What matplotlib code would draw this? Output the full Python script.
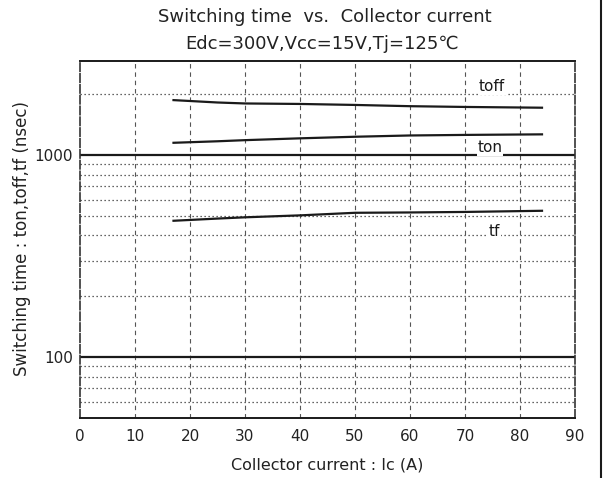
import matplotlib
matplotlib.use("Agg")
import matplotlib.pyplot as plt
from matplotlib.lines import Line2D

# Data
ic_toff = [17, 25, 30, 40, 50, 60, 70, 84]
toff = [1870, 1820, 1800, 1790, 1770, 1745, 1730, 1715]

ic_ton = [17, 25, 30, 40, 50, 60, 70, 84]
ton = [1150, 1170, 1185, 1210, 1232, 1250, 1258, 1266]

ic_tf = [17, 25, 30, 40, 50, 60, 70, 84]
tf = [473, 485, 492, 503, 518, 520, 523, 530]

xticks = [0, 10, 20, 30, 40, 50, 60, 70, 80, 90]
yticks = [100, 1000]
ytick_labels = ["100", "1000"]
minor_grid = [60, 70, 80, 90, 200, 300, 400, 500, 600, 700, 800, 900, 2000]

fig = plt.figure(figsize=(6.03, 4.78), dpi=100)
ax = fig.add_axes([80/603, 1-418/478, (575-80)/603, (418-61)/478])

ax.set_yscale("log")
ax.set_xlim(0, 90)
ax.set_ylim(50, 2920)

ink = "#1a1a1a"
# grids
for y in minor_grid:
    ax.axhline(y, color="#333333", lw=0.9, ls=(0, (1, 2.2)), zorder=1)
for y in yticks:
    ax.axhline(y, color=ink, lw=1.6, zorder=2)
for x in xticks[1:-1]:
    ax.axvline(x, color="#555555", lw=0.8, ls=(0, (4, 3.5)), zorder=1)

ax.plot(ic_toff, toff, color=ink, lw=1.6, zorder=3)
ax.plot(ic_ton, ton, color=ink, lw=1.6, zorder=3)
ax.plot(ic_tf, tf, color=ink, lw=1.6, zorder=3)

tkw = dict(fontsize=11, color=ink, zorder=4,
           bbox=dict(facecolor="white", edgecolor="none", pad=0.5))
ax.text(72.5, 2000, "toff", ha="left", va="bottom", **tkw)
ax.text(72.3, 1000, "ton", ha="left", va="bottom", **tkw)
ax.text(74.3, 385, "tf", ha="left", va="bottom", **tkw)

ax.set_xticks(xticks)
ax.set_yticks(yticks)
ax.set_yticklabels(ytick_labels)
ax.yaxis.set_minor_locator(matplotlib.ticker.NullLocator())
ax.tick_params(axis="x", length=0, labelsize=11, colors="#222222", pad=8)
ax.tick_params(axis="y", length=0, labelsize=11, colors="#222222", pad=5)

for side in ["top", "bottom"]:
    ax.spines[side].set_linewidth(1.4)
    ax.spines[side].set_color(ink)
for side in ["left", "right"]:
    ax.spines[side].set_linewidth(1.2)
    ax.spines[side].set_color("#333333")
    ax.spines[side].set_linestyle((0, (5, 1.5)))

ax.set_xlabel("Collector current : Ic (A)", fontsize=11.5, color="#222222")
ax.set_ylabel("Switching time : ton,toff,tf (nsec)", fontsize=12, color="#222222")
ax.xaxis.set_label_coords((327 - 80) / 495, -(465 - 418) / 357)
ax.yaxis.set_label_coords(-(80 - 22) / 495, (418 - 238) / 357)
ax.xaxis.label.set_va("center")
ax.yaxis.label.set_va("center")

fig.text(325/603, 1-17/478, "Switching time  vs.  Collector current",
         ha="center", va="center", fontsize=13, color="#222222")
fig.text(322/603, 1-44/478, "Edc=300V,Vcc=15V,Tj=125\u2103",
         ha="center", va="center", fontsize=13, color="#222222")

fig.add_artist(Line2D([601/603, 601/603], [0, 1], color=ink, lw=1.5))

fig.savefig("out.png", dpi=100)
